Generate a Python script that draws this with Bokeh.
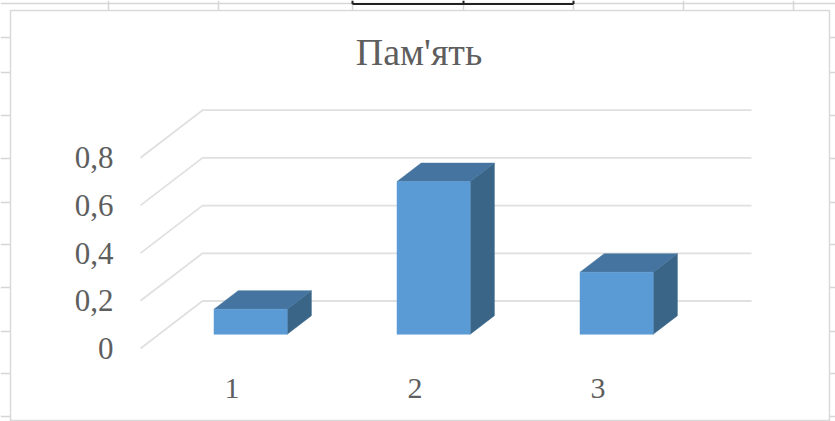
from bokeh.core.properties import value
from bokeh.embed import file_html
from bokeh.models import ColumnDataSource
from bokeh.plotting import figure
from bokeh.resources import INLINE

title = "Пам'ять"
categories = [1, 2, 3]
memory = [0.105, 0.64, 0.26]
y_ticks = [0, 0.2, 0.4, 0.6, 0.8]
y_labels = ["0", "0,2", "0,4", "0,6", "0,8"]

WIDTH, HEIGHT = 835, 421
PX_PER_CAT = 183.0
PX_PER_VAL = 238.5
ORIGIN_X, ORIGIN_Y = 231.5, 348.0  # where category 1, value 0 lands on the front floor edge

# Oblique projection: one unit of depth shifts a point right and up.
DEPTH_X = 62.0 / PX_PER_CAT
DEPTH_Y = 47.5 / PX_PER_VAL
BAR_HALF = 0.2
BAR_FRONT, BAR_BACK = 0.3, 0.69

FONT = value("Liberation Serif")
TEXT = "#5e5e5e"
GRID = "#e0e0e0"
SHEET = "#d6d6d6"


def sx(px):
    return 1 + (px - ORIGIN_X) / PX_PER_CAT


def sy(px):
    return (ORIGIN_Y - px) / PX_PER_VAL


p = figure(
    width=WIDTH, height=HEIGHT, output_backend="svg", toolbar_location=None,
    x_range=(sx(0), sx(WIDTH)), y_range=(sy(HEIGHT), sy(0)),
    min_border=0, outline_line_color=None, background_fill_color="white",
)
p.axis.visible = False
p.grid.visible = False

# Worksheet cells showing behind the chart object
col_px = [108, 218, 352, 463, 573, 683, 793]
row_px = [37, 72, 115, 158, 202, 244, 287, 331, 373, 416]
p.segment(sx(0), sy(3), sx(WIDTH), sy(3), line_color=SHEET, line_width=1.5)
p.segment([sx(c) for c in col_px], sy(0), [sx(c) for c in col_px], sy(10),
          line_color=SHEET, line_width=1.5)
p.segment(sx(0), [sy(r) for r in row_px], sx(WIDTH), [sy(r) for r in row_px],
          line_color=SHEET, line_width=1.5)
p.segment([sx(352), sx(463), sx(573)], sy(0), [sx(352), sx(463), sx(573)], sy(3.5),
          line_color="#222222", line_width=2)
p.segment(sx(352), sy(3.5), sx(573), sy(3.5), line_color="#222222", line_width=2)

# Chart area
p.quad(left=sx(10), right=sx(829), top=sy(10), bottom=sy(420),
       fill_color="white", line_color="#d9d9d9", line_width=1.5)

# Side wall and back wall gridlines
lo, hi = categories[0] - 0.5, categories[-1] + 0.5
p.multi_line(
    xs=[[lo, lo + DEPTH_X, hi + DEPTH_X] for _ in y_ticks],
    ys=[[t, t + DEPTH_Y, t + DEPTH_Y] for t in y_ticks],
    line_color=GRID, line_width=1.8,
)

# Bars: right side, top and front faces
def faces(c, v):
    l, r = c - BAR_HALF, c + BAR_HALF
    fx, fy = BAR_FRONT * DEPTH_X, BAR_FRONT * DEPTH_Y
    bx, by = BAR_BACK * DEPTH_X, BAR_BACK * DEPTH_Y
    front = ([l + fx, r + fx, r + fx, l + fx], [fy, fy, v + fy, v + fy])
    side = ([r + fx, r + bx, r + bx, r + fx], [fy, by, v + by, v + fy])
    top = ([l + fx, r + fx, r + bx, l + bx], [v + fy, v + fy, v + by, v + by])
    return front, side, top


for c, v in zip(categories, memory):
    front, side, top = faces(c, v)
    for (xs, ys), colour in ((side, "#3A6587"), (top, "#44749F"), (front, "#5B9BD5")):
        p.patch(xs, ys, fill_color=colour, line_color=colour, line_width=0.5)

# Value labels beside the front edge of the side wall
p.text(
    x=[sx(113)] * len(y_ticks), y=y_ticks, text=y_labels,
    text_font=FONT, text_font_size="31px", text_color=TEXT,
    text_align="right", text_baseline="middle",
)

# Category labels under the floor
cat_source = ColumnDataSource(dict(x=categories, y=[sy(388)] * len(categories),
                                   t=[str(c) for c in categories]))
p.text(x="x", y="y", text="t", source=cat_source,
       text_font=FONT, text_font_size="30px", text_color=TEXT,
       text_align="center", text_baseline="middle")

p.text(x=[sx(418.5)], y=[sy(51)], text=[title],
       text_font=FONT, text_font_size="38px", text_color=TEXT,
       text_align="center", text_baseline="middle")

open("out.html", "w").write(file_html(p, INLINE))
